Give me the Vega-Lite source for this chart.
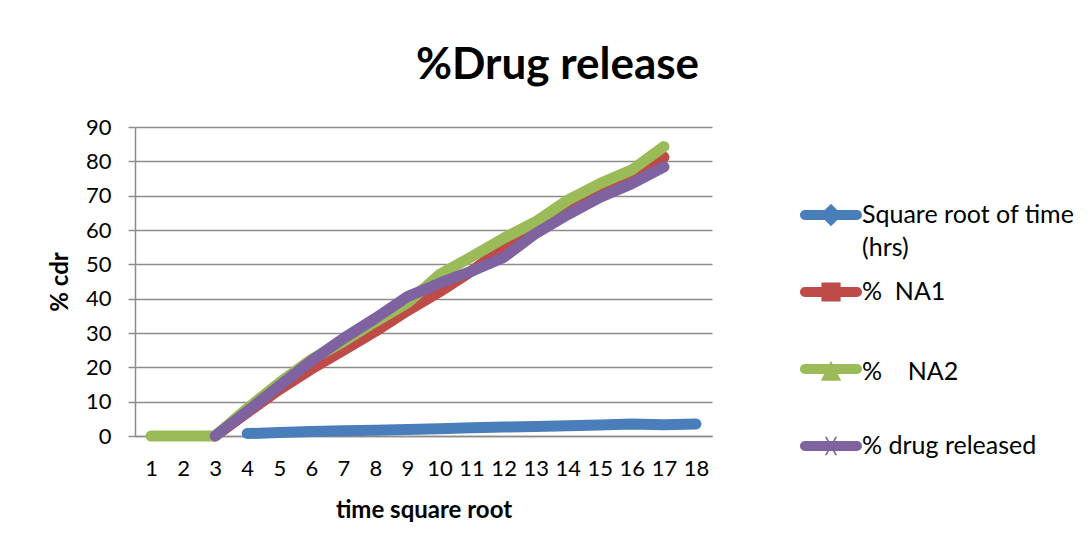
{
  "$schema": "https://vega.github.io/schema/vega-lite/v6.json",
  "autosize": {"type": "none"},
  "width": 577,
  "height": 309,
  "padding": {"left": 135, "top": 127, "right": 379, "bottom": 113},
  "background": "white",
  "title": {
    "text": "%Drug release",
    "font": "Lato",
    "fontSize": 44,
    "fontWeight": "bold",
    "color": "#000000",
    "anchor": "middle",
    "frame": "group",
    "dx": 134,
    "baseline": "alphabetic",
    "offset": -7
  },
  "data": {
    "values": [
      {"t": 4, "series": "Square root of time (hrs)", "v": 0.7},
      {"t": 5, "series": "Square root of time (hrs)", "v": 1.0},
      {"t": 6, "series": "Square root of time (hrs)", "v": 1.3},
      {"t": 7, "series": "Square root of time (hrs)", "v": 1.5},
      {"t": 8, "series": "Square root of time (hrs)", "v": 1.7},
      {"t": 9, "series": "Square root of time (hrs)", "v": 1.9},
      {"t": 10, "series": "Square root of time (hrs)", "v": 2.1},
      {"t": 11, "series": "Square root of time (hrs)", "v": 2.4},
      {"t": 12, "series": "Square root of time (hrs)", "v": 2.6},
      {"t": 13, "series": "Square root of time (hrs)", "v": 2.8},
      {"t": 14, "series": "Square root of time (hrs)", "v": 3.0},
      {"t": 15, "series": "Square root of time (hrs)", "v": 3.2},
      {"t": 16, "series": "Square root of time (hrs)", "v": 3.5},
      {"t": 17, "series": "Square root of time (hrs)", "v": 3.3},
      {"t": 18, "series": "Square root of time (hrs)", "v": 3.5},

      {"t": 3, "series": "% NA1", "v": 0},
      {"t": 4, "series": "% NA1", "v": 6.8},
      {"t": 5, "series": "% NA1", "v": 13.5},
      {"t": 6, "series": "% NA1", "v": 19.5},
      {"t": 7, "series": "% NA1", "v": 25},
      {"t": 8, "series": "% NA1", "v": 30.5},
      {"t": 9, "series": "% NA1", "v": 36.5},
      {"t": 10, "series": "% NA1", "v": 42},
      {"t": 11, "series": "% NA1", "v": 48},
      {"t": 12, "series": "% NA1", "v": 55},
      {"t": 13, "series": "% NA1", "v": 60},
      {"t": 14, "series": "% NA1", "v": 65.5},
      {"t": 15, "series": "% NA1", "v": 70.8},
      {"t": 16, "series": "% NA1", "v": 75.3},
      {"t": 17, "series": "% NA1", "v": 81.2},

      {"t": 1, "series": "% NA2", "v": 0},
      {"t": 2, "series": "% NA2", "v": 0},
      {"t": 3, "series": "% NA2", "v": 0},
      {"t": 4, "series": "% NA2", "v": 8},
      {"t": 5, "series": "% NA2", "v": 15.5},
      {"t": 6, "series": "% NA2", "v": 22.3},
      {"t": 7, "series": "% NA2", "v": 27.5},
      {"t": 8, "series": "% NA2", "v": 33.3},
      {"t": 9, "series": "% NA2", "v": 38.8},
      {"t": 10, "series": "% NA2", "v": 47},
      {"t": 11, "series": "% NA2", "v": 52.2},
      {"t": 12, "series": "% NA2", "v": 57.6},
      {"t": 13, "series": "% NA2", "v": 62.4},
      {"t": 14, "series": "% NA2", "v": 68.7},
      {"t": 15, "series": "% NA2", "v": 73.5},
      {"t": 16, "series": "% NA2", "v": 77.5},
      {"t": 17, "series": "% NA2", "v": 84.3},

      {"t": 3, "series": "% drug released", "v": 0},
      {"t": 4, "series": "% drug released", "v": 7.2},
      {"t": 5, "series": "% drug released", "v": 14.6},
      {"t": 6, "series": "% drug released", "v": 21.9},
      {"t": 7, "series": "% drug released", "v": 28.4},
      {"t": 8, "series": "% drug released", "v": 34.3},
      {"t": 9, "series": "% drug released", "v": 40.6},
      {"t": 10, "series": "% drug released", "v": 44.5},
      {"t": 11, "series": "% drug released", "v": 48},
      {"t": 12, "series": "% drug released", "v": 52},
      {"t": 13, "series": "% drug released", "v": 59},
      {"t": 14, "series": "% drug released", "v": 64.5},
      {"t": 15, "series": "% drug released", "v": 69.5},
      {"t": 16, "series": "% drug released", "v": 73.5},
      {"t": 17, "series": "% drug released", "v": 78.4}
    ]
  },
  "encoding": {
    "x": {
      "field": "t",
      "type": "ordinal",
      "scale": {"type": "point", "domain": [1,2,3,4,5,6,7,8,9,10,11,12,13,14,15,16,17,18], "padding": 0.5},
      "axis": {
        "title": "time square root",
        "titleFont": "Lato",
        "titleFontSize": 24,
        "titleFontWeight": "bold",
        "titleColor": "#000000",
        "titlePadding": 19,
        "labelFont": "Lato",
        "labelFontSize": 22,
        "labelColor": "#000000",
        "labelAngle": 0,
        "labelPadding": 22,
        "ticks": false,
        "domain": true,
        "domainColor": "#8c8c8c",
        "domainWidth": 1.5,
        "grid": false
      }
    },
    "y": {
      "field": "v",
      "type": "quantitative",
      "scale": {"domain": [0, 90], "nice": false},
      "axis": {
        "title": "% cdr",
        "titleFont": "Lato",
        "titleFontSize": 24,
        "titleFontWeight": "bold",
        "titleColor": "#000000",
        "titlePadding": 13,
        "values": [0,10,20,30,40,50,60,70,80,90],
        "labelFont": "Lato",
        "labelFontSize": 22,
        "labelColor": "#000000",
        "labelPadding": 17,
        "tickSize": 7,
        "tickColor": "#8c8c8c",
        "tickWidth": 1.5,
        "domainColor": "#8c8c8c",
        "domainWidth": 1.5,
        "grid": true,
        "gridColor": "#8c8c8c",
        "gridWidth": 1.5
      }
    }
  },
  "layer": [
    {
      "mark": {"type": "line", "strokeWidth": 11, "strokeCap": "round", "strokeJoin": "round"},
      "encoding": {
        "color": {
          "field": "series",
          "type": "nominal",
          "scale": {
            "domain": ["Square root of time (hrs)", "% NA1", "% NA2", "% drug released"],
            "range": ["#4A7EBB", "#BE4B48", "#9BBB59", "#7F63A1"]
          },
          "legend": {
            "title": null,
            "orient": "none",
            "legendX": 665,
            "legendY": 57,
            "padding": 0,
            "symbolType": "stroke",
            "symbolStrokeWidth": 10,
            "symbolSize": 3844,
            "labelFont": "Lato",
            "labelFontSize": 25,
            "labelColor": "#000000",
            "labelOffset": 0,
            "labelLimit": 400,
            "rowPadding": 0,
            "gridAlign": "all",
            "labelExpr": "datum.label == 'Square root of time (hrs)' ? ['Square root of time', '(hrs)'] : datum.label == '% NA1' ? '%\u00a0\u00a0NA1' : datum.label == '% NA2' ? '%\u00a0\u00a0\u00a0\u00a0NA2' : datum.label",
            "encode": {
              "labels": {
                "update": {
                  "lineHeight": {"value": 33},
                  "dy": {"signal": "datum.value == '% NA2' ? 3 : 0"}
                }
              },
              "symbols": {
                "update": {
                  "shape": {"signal": "datum.value == 'Square root of time (hrs)' ? 'M-0.84,-0.16 L0.84,-0.16 A0.16,0.16 0 0 1 0.84,0.16 L-0.84,0.16 A0.16,0.16 0 0 1 -0.84,-0.16 Z M0,-0.36 L0.36,0 L0,0.36 L-0.36,0 Z' : datum.value == '% NA1' ? 'M-0.84,-0.16 L0.84,-0.16 A0.16,0.16 0 0 1 0.84,0.16 L-0.84,0.16 A0.16,0.16 0 0 1 -0.84,-0.16 Z M-0.31,-0.31 L0.31,-0.31 L0.31,0.31 L-0.31,0.31 Z' : datum.value == '% NA2' ? 'M-0.84,-0.16 L0.84,-0.16 A0.16,0.16 0 0 1 0.84,0.16 L-0.84,0.16 A0.16,0.16 0 0 1 -0.84,-0.16 Z M0,-0.27 L0.33,0.38 L-0.33,0.38 Z' : 'M-0.84,-0.16 L0.84,-0.16 A0.16,0.16 0 0 1 0.84,0.16 L-0.84,0.16 A0.16,0.16 0 0 1 -0.84,-0.16 Z M-0.2,-0.3 L-0.14,-0.3 L0.2,0.3 L0.14,0.3 Z M0.14,-0.3 L0.2,-0.3 L-0.14,0.3 L-0.2,0.3 Z'"},
                  "fill": {"signal": "scale('color', datum.value)"},
                  "fillOpacity": {"value": 1},
                  "stroke": {"value": "transparent"},
                  "strokeWidth": {"value": 0},
                  "size": {"value": 3844}
                }
              }
            }
          }
        }
      }
    }
  ],
  "config": {
    "view": {"stroke": null}
  }
}
